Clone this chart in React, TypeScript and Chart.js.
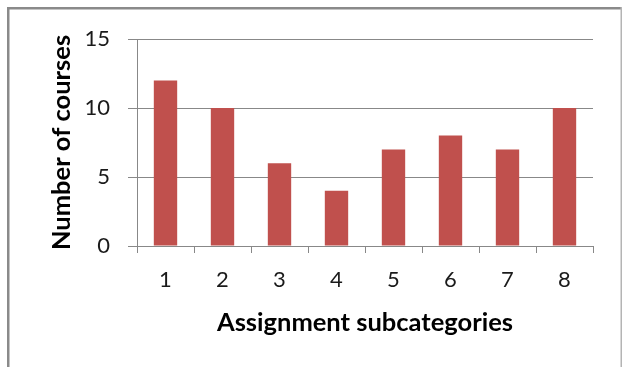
import React, { useEffect, useRef } from "react";
import { Chart, registerables } from "chart.js";

Chart.register(...registerables);

const categories = ["1", "2", "3", "4", "5", "6", "7", "8"];
const courseCounts = [12, 10, 6, 4, 7, 8, 7, 10];
const yTicks = [0, 5, 10, 15];

const framePlugin = {
  id: "frame",
  beforeDraw(chart: any) {
    const ctx = chart.ctx;
    ctx.save();
    ctx.fillStyle = "#ffffff";
    ctx.fillRect(0, 0, chart.width, chart.height);
    ctx.fillStyle = "#8a8a8a";
    ctx.fillRect(7, 7, 2.5, chart.height - 7);
    ctx.fillRect(7, 7, 614, 2.5);
    ctx.fillStyle = "#b4b4b4";
    ctx.fillRect(620.5, 7, 1.5, chart.height - 7);
    ctx.restore();
  },
};

export default function App() {
  const ref = useRef<HTMLCanvasElement>(null);
  useEffect(() => {
    if (!ref.current) return;
    const chart = new Chart(ref.current, {
      type: "bar",
      data: {
        labels: categories,
        datasets: [
          {
            data: courseCounts,
            backgroundColor: "#C0504D",
            borderWidth: 0,
            barPercentage: 0.41,
            categoryPercentage: 1,
          },
        ],
      },
      plugins: [framePlugin],
      options: {
        responsive: false,
        animation: false,
        devicePixelRatio: 1,
        layout: { padding: { left: 0, top: 39, right: 30, bottom: 0 } },
        plugins: { legend: { display: false }, tooltip: { enabled: false } },
        scales: {
          x: {
            afterFit(scale: any) {
              scale.height = 121;
            },
            grid: {
              display: true,
              drawOnChartArea: false,
              drawTicks: true,
              tickLength: 7,
              color: "#888888",
              offset: true,
            },
            border: { display: true, color: "#888888", width: 1 },
            ticks: {
              color: "#1a1a1a",
              font: { family: "Lato", size: 22 },
              padding: 14,
              maxRotation: 0,
            },
            title: {
              display: true,
              text: "Assignment subcategories",
              color: "#000000",
              font: { family: "Lato", size: 25.5, weight: "bold" },
              padding: { top: 0, bottom: 28.5 },
            },
          },
          y: {
            min: 0,
            max: 15,
            afterFit(scale: any) {
              scale.width = 137;
            },
            afterBuildTicks(scale: any) {
              scale.ticks = yTicks.map((v) => ({ value: v }));
            },
            grid: {
              display: true,
              drawOnChartArea: true,
              drawTicks: true,
              tickLength: 9,
              color: "#888888",
            },
            border: { display: true, color: "#888888", width: 1 },
            ticks: {
              color: "#1a1a1a",
              font: { family: "Lato", size: 22 },
              padding: 18,
            },
            title: {
              display: true,
              text: "Number of courses",
              color: "#000000",
              font: { family: "Lato", size: 25.5, weight: "bold" },
              padding: { top: 46.5, bottom: 0 },
            },
          },
        },
      },
    });
    return () => chart.destroy();
  }, []);
  return (
    <div style={{ position: "fixed", left: 0, top: 0, width: 623, height: 367 }}>
      <canvas ref={ref} width={623} height={367} style={{ display: "block" }} />
    </div>
  );
}
